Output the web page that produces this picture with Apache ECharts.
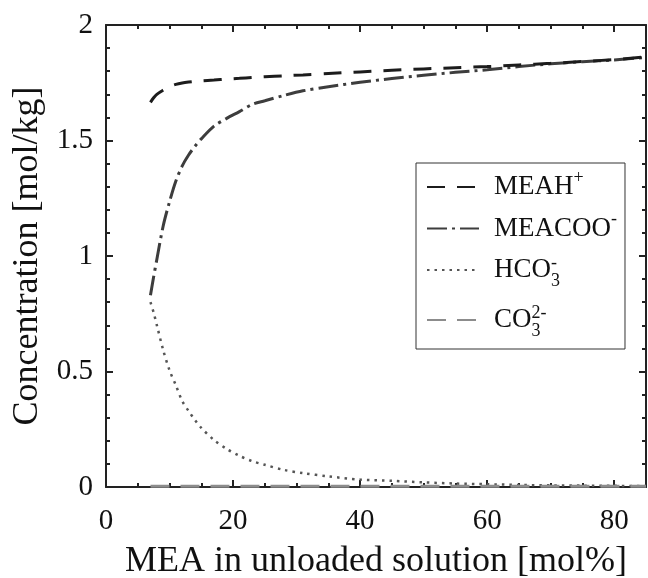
<!DOCTYPE html>
<html>
<head>
<meta charset="utf-8">
<script src="https://cdn.jsdelivr.net/npm/echarts@6/dist/echarts.min.js"></script>
<style>
  html, body { margin: 0; padding: 0; background: #fff; }
  #chart { width: 648px; height: 578px; }
</style>
</head>
<body>
<div id="chart"></div>
<script>
// MEA content of the unloaded solution [mol%]
const mea = [7, 7.5, 8, 9, 10, 11, 12, 13, 14, 15, 17, 19, 21, 23, 25, 28, 31, 35, 40, 45, 50, 55, 60, 65, 70, 75, 80, 85];

// Species concentrations [mol/kg]
const meah = [1.665, 1.685, 1.700, 1.718, 1.733, 1.743, 1.749, 1.753, 1.756, 1.758, 1.762, 1.766, 1.769, 1.773, 1.776, 1.780, 1.784, 1.790, 1.797, 1.804, 1.810, 1.815, 1.820, 1.827, 1.834, 1.842, 1.850, 1.862];
const meacoo = [0.830, 0.910, 0.985, 1.130, 1.235, 1.325, 1.390, 1.437, 1.475, 1.507, 1.562, 1.596, 1.625, 1.656, 1.672, 1.695, 1.715, 1.733, 1.752, 1.768, 1.782, 1.795, 1.806, 1.820, 1.832, 1.841, 1.849, 1.860];
const hco3 = [0.800, 0.755, 0.701, 0.593, 0.505, 0.440, 0.372, 0.329, 0.290, 0.256, 0.203, 0.165, 0.135, 0.112, 0.096, 0.074, 0.060, 0.046, 0.032, 0.027, 0.020, 0.015, 0.012, 0.009, 0.007, 0.006, 0.005, 0.004];
const co3 = [0.003, 0.003, 0.003, 0.003, 0.003, 0.003, 0.003, 0.003, 0.003, 0.003, 0.003, 0.003, 0.003, 0.003, 0.003, 0.003, 0.003, 0.003, 0.003, 0.003, 0.003, 0.003, 0.003, 0.003, 0.003, 0.003, 0.003, 0.003];

// Axis ticks
const xTicks = [0, 20, 40, 60, 80];
const yTicks = [0, 0.5, 1, 1.5, 2];

const zip = (xs, ys) => xs.map((x, i) => [x, ys[i]]);

const FONT = 'Liberation Serif';
const AXIS_COLOR = '#222';

// Box axes: all four sides with inward-pointing major and minor ticks
function boxAxis(extra, minorSplit) {
  return Object.assign({
    type: 'value',
    axisLine: { show: true, onZero: false, lineStyle: { color: AXIS_COLOR, width: 2 } },
    axisTick: { show: true, inside: true, length: 7, lineStyle: { color: AXIS_COLOR, width: 2 } },
    minorTick: { show: true, splitNumber: minorSplit, length: 4, lineStyle: { color: AXIS_COLOR, width: 2 } },
    splitLine: { show: false },
    minorSplitLine: { show: false }
  }, extra);
}

const chart = echarts.init(document.getElementById('chart'), null, { renderer: 'canvas' });

const richLegend = {
  t: { fontFamily: FONT, fontSize: 27, color: '#111', lineHeight: 44, verticalAlign: 'middle' },
  sup: { fontFamily: FONT, fontSize: 18, color: '#111', lineHeight: 18, verticalAlign: 'top', padding: [4, 0, 0, 0] },
  sub: { fontFamily: FONT, fontSize: 18, color: '#111', lineHeight: 18, verticalAlign: 'bottom', width: 0, padding: [0, 0, 2, 0] },
  supS: { fontFamily: FONT, fontSize: 18, color: '#111', lineHeight: 18, verticalAlign: 'top', padding: [6, 0, 0, 0] }
};

const legendNames = {
  'MEAH+': '{t|MEAH}{sup|+}',
  'MEACOO-': '{t|MEACOO}{sup|-}',
  'HCO3-': '{t|HCO}{sub|3}{supS|-}',
  'CO32-': '{t|CO}{sub|3}{supS|2-}'
};

chart.setOption({
  animation: false,
  backgroundColor: '#fff',
  grid: { left: 106, right: 2, top: 25, bottom: 91, containLabel: false, outerBoundsMode: 'none' },
  legend: {
    orient: 'vertical',
    left: 416,
    top: 163,
    backgroundColor: '#fff',
    borderColor: '#333',
    borderWidth: 1,
    borderRadius: 0,
    padding: [2, 8, 7, 10],
    itemGap: 6,
    itemWidth: 52,
    itemHeight: 14,
    itemStyle: { opacity: 0 },
    textStyle: { fontFamily: FONT, fontSize: 27, color: '#111', padding: [0, 0, 0, 10], rich: richLegend },
    formatter: name => legendNames[name],
    data: ['MEAH+', 'MEACOO-', 'HCO3-', 'CO32-']
  },
  xAxis: [
    boxAxis({
      position: 'bottom', min: 0, max: 85, interval: 20,
      axisLabel: {
        fontFamily: FONT, fontSize: 29, color: '#111', margin: 20,
        showMaxLabel: false,
        formatter: v => (xTicks.indexOf(v) >= 0 ? String(v) : '')
      },
      name: 'MEA in unloaded solution [mol%]',
      nameLocation: 'middle', nameGap: 57,
      nameTextStyle: { fontFamily: FONT, fontSize: 36, color: '#111' }
    }, 4),
    boxAxis({ position: 'top', min: 0, max: 85, interval: 20, axisLabel: { show: false } }, 4)
  ],
  yAxis: [
    boxAxis({
      position: 'left', min: 0, max: 2, interval: 0.5,
      axisLabel: {
        fontFamily: FONT, fontSize: 29, color: '#111', margin: 13,
        formatter: v => (yTicks.indexOf(v) >= 0 ? String(v) : '')
      },
      name: 'Concentration [mol/kg]',
      nameLocation: 'middle', nameGap: 58,
      nameTextStyle: { fontFamily: FONT, fontSize: 36, color: '#111' }
    }, 5),
    boxAxis({ position: 'right', min: 0, max: 2, interval: 0.5, axisLabel: { show: false } }, 5)
  ],
  series: [
    {
      name: 'MEAH+', type: 'line', data: zip(mea, meah), showSymbol: false, symbol: 'none', smooth: 0.3,
      lineStyle: { color: '#1c1c1c', width: 3, type: [18, 12] }, itemStyle: { color: '#1c1c1c' }, z: 4
    },
    {
      name: 'MEACOO-', type: 'line', data: zip(mea, meacoo), showSymbol: false, symbol: 'none', smooth: 0.3,
      lineStyle: { color: '#3d3d3d', width: 3, type: [20, 5, 3, 5] }, itemStyle: { color: '#3d3d3d' }, z: 3
    },
    {
      name: 'HCO3-', type: 'line', data: zip(mea, hco3), showSymbol: false, symbol: 'none', smooth: 0.3,
      lineStyle: { color: '#555', width: 2.5, type: [2.5, 5] }, itemStyle: { color: '#555' }, z: 3
    },
    {
      name: 'CO32-', type: 'line', data: zip(mea, co3), showSymbol: false, symbol: 'none',
      lineStyle: { color: '#8c8c8c', width: 3, type: [19, 11] }, itemStyle: { color: '#8c8c8c' }, z: 5
    }
  ]
});
</script>
</body>
</html>
